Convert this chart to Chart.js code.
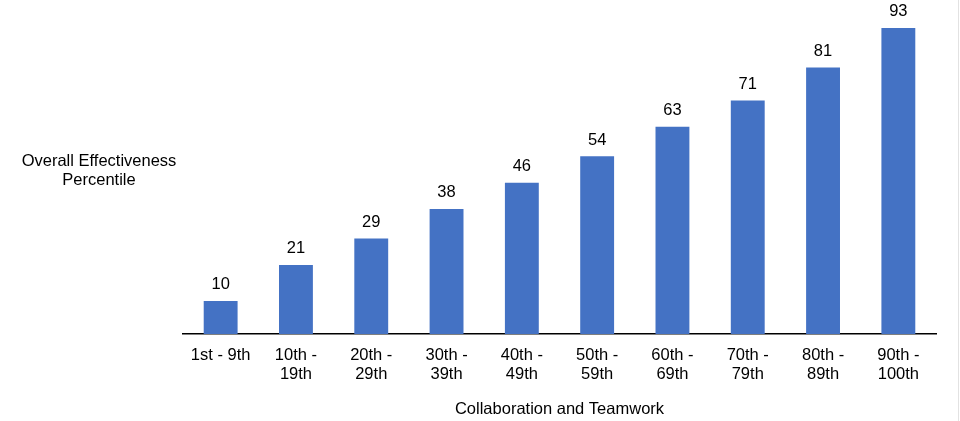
<!DOCTYPE html>
<html>
<head>
<meta charset="utf-8">
<script src="https://cdn.jsdelivr.net/npm/chart.js@4"></script>
<style>
  html, body { margin: 0; padding: 0; background: #fff; }
  #wrap { width: 960px; height: 421px; }
</style>
</head>
<body>
<div id="wrap"><canvas id="barChart" width="960" height="421"></canvas></div>
<script>
const categories = [
  ["1st - 9th"], ["10th -", "19th"], ["20th -", "29th"], ["30th -", "39th"], ["40th -", "49th"],
  ["50th -", "59th"], ["60th -", "69th"], ["70th -", "79th"], ["80th -", "89th"], ["90th -", "100th"]
];
const effectiveness = [10, 21, 29, 38, 46, 54, 63, 71, 81, 93];
const yTitleLines = ["Overall Effectiveness", "Percentile"];
const xTitle = "Collaboration and Teamwork";

const FONT = "'Liberation Sans', Arial, sans-serif";
const SIZE = 16.5;

// value labels above each bar
const valueLabels = {
  id: 'valueLabels',
  afterDatasetsDraw(chart) {
    const ctx = chart.ctx;
    const meta = chart.getDatasetMeta(0);
    ctx.save();
    ctx.font = SIZE + "px " + FONT;
    ctx.fillStyle = "#000";
    ctx.textAlign = "center";
    ctx.textBaseline = "bottom";
    meta.data.forEach((bar, i) => {
      ctx.fillText(effectiveness[i], bar.x, bar.y - 8);
    });
    ctx.restore();
  }
};

// horizontal y-axis title on the left, plus faint right edge
const sideText = {
  id: 'sideText',
  afterDraw(chart) {
    const ctx = chart.ctx;
    ctx.save();
    ctx.font = SIZE + "px " + FONT;
    ctx.fillStyle = "#000";
    ctx.textAlign = "center";
    ctx.textBaseline = "middle";
    yTitleLines.forEach((t, i) => ctx.fillText(t, 99, 161 + i * 19));
    ctx.strokeStyle = "#e2e2e2";
    ctx.lineWidth = 1;
    ctx.beginPath();
    ctx.moveTo(958.5, 0);
    ctx.lineTo(958.5, 421);
    ctx.stroke();
    ctx.restore();
  }
};

new Chart(document.getElementById('barChart').getContext('2d'), {
  type: 'bar',
  data: {
    labels: categories,
    datasets: [{
      data: effectiveness,
      backgroundColor: '#4472C4',
      categoryPercentage: 1,
      barPercentage: 0.45
    }]
  },
  options: {
    responsive: false,
    animation: false,
    layout: { padding: { left: 183, right: 24, top: 5, bottom: 0 } },
    plugins: {
      legend: { display: false },
      tooltip: { enabled: false }
    },
    scales: {
      x: {
        afterFit: scale => { scale.height = 87; },
        grid: { display: false, drawTicks: false },
        border: { display: true, color: '#000', width: 1.5 },
        ticks: {
          color: '#000',
          padding: 12,
          maxRotation: 0,
          autoSkip: false,
          font: { family: FONT, size: SIZE, lineHeight: 1.15 }
        },
        title: {
          display: true,
          text: xTitle,
          color: '#000',
          padding: { top: 0, bottom: 2 },
          font: { family: FONT, size: SIZE }
        }
      },
      y: {
        display: false,
        min: 0,
        max: 100
      }
    }
  },
  plugins: [valueLabels, sideText]
});
</script>
</body>
</html>
